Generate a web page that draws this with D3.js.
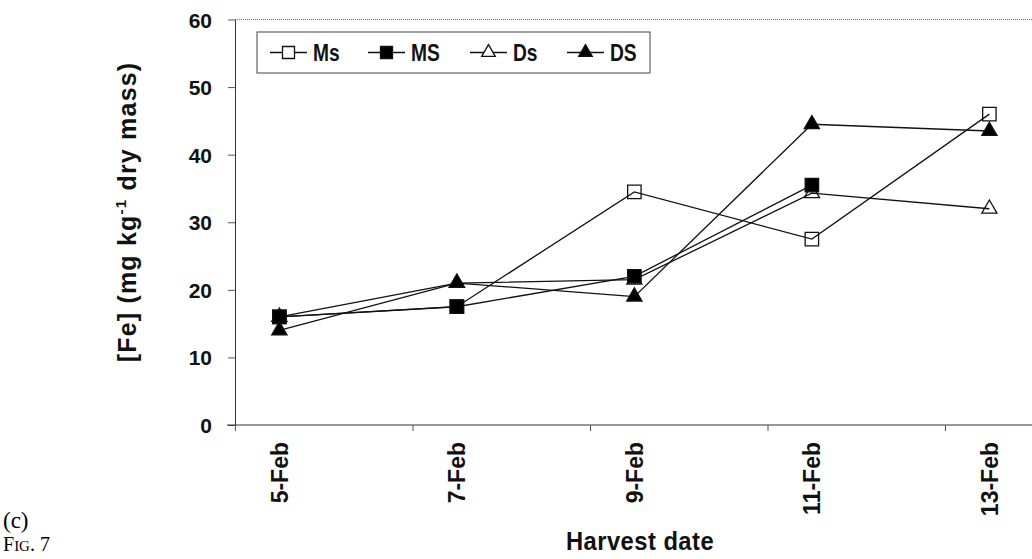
<!DOCTYPE html>
<html>
<head>
<meta charset="utf-8">
<script src="https://cdn.jsdelivr.net/npm/d3@7"></script>
<style>
  body { margin: 0; background: #fff; }
  text { font-family: Arial, "Liberation Sans", sans-serif; }
</style>
</head>
<body>
<svg width="1032" height="559"></svg>
<script>
// harvest dates (day of February) and their labels
var days = [5, 7, 9, 11, 13];
var dateLabels = ["5-Feb", "7-Feb", "9-Feb", "11-Feb", "13-Feb"];
var yTicks = [0, 10, 20, 30, 40, 50, 60];

// [Fe] values, mg kg-1 dry mass (null = no measurement)
var seriesNames = ["Ms", "MS", "Ds", "DS"];
var ms = [16, 17.5, 34.5, 27.5, 46];
var MS = [16, 17.5, 22, 35.5, null];
var ds = [16, 21, 21.5, 34.3, 32];
var DS = [14, 21, 19, 44.5, 43.5];

var series = [
    {name: seriesNames[0], values: ms, shape: d3.symbolSquare, filled: false},
    {name: seriesNames[1], values: MS, shape: d3.symbolSquare, filled: true},
    {name: seriesNames[2], values: ds, shape: d3.symbolTriangle, filled: false},
    {name: seriesNames[3], values: DS, shape: d3.symbolTriangle, filled: true}
];

var svg = d3.select("svg");

var x = d3.scaleLinear().domain([4.5, 14.5]).range([235, 1122.5]);
var y = d3.scaleLinear().domain([0, 60]).range([425, 19.5]);

var symSize = function(s) { return s.shape === d3.symbolSquare ? 180 : 100; };

// top border of plot area (dotted)
svg.append("line")
    .attr("x1", x(4.5)).attr("x2", 1032)
    .attr("y1", y(60)).attr("y2", y(60))
    .attr("stroke", "#777").attr("stroke-width", 1)
    .attr("stroke-dasharray", "1,1");

// y axis
var yAxis = svg.append("g")
    .attr("transform", `translate(${x(4.5)},0)`)
    .call(d3.axisLeft(y).tickValues(yTicks).tickSize(7).tickSizeOuter(0).tickPadding(16));
yAxis.select(".domain").attr("stroke", "#333");
yAxis.selectAll(".tick line").attr("stroke", "#555");
yAxis.selectAll("text")
    .style("font-size", "21px").style("font-weight", "bold").attr("fill", "#111")
    .attr("dy", "0.36em");

// x axis: tick marks between harvest dates
var xAxis = svg.append("g")
    .attr("transform", `translate(0,${y(0)})`)
    .call(d3.axisBottom(x).tickValues(days.map(function(d) { return d - 0.5; }))
        .tickSize(6).tickSizeOuter(0).tickFormat(""));
xAxis.select(".domain").attr("stroke", "#333").attr("d", `M${x(4.5) - 8},0H1032`);
xAxis.selectAll(".tick line").attr("stroke", "#555");

// x labels, rotated
svg.selectAll(".xlab")
    .data(days)
    .enter().append("text")
    .attr("class", "xlab")
    .attr("transform", function(d) { return `translate(${x(d)},${y(0) + 17}) rotate(-90)`; })
    .attr("dy", "0.36em")
    .style("text-anchor", "end")
    .style("font-size", "23px").style("font-weight", "bold").attr("fill", "#111")
    .text(function(d, i) { return dateLabels[i]; });

// axis titles
svg.append("text")
    .attr("transform", "translate(640,550) scale(0.95,1)")
    .style("text-anchor", "middle")
    .style("font-size", "25px").style("font-weight", "bold").style("letter-spacing", "0.5px")
    .attr("fill", "#111")
    .text("Harvest date");

var yt = svg.append("text")
    .attr("transform", "translate(136,212) rotate(-90)")
    .style("text-anchor", "middle")
    .style("font-size", "25px").style("font-weight", "bold").style("letter-spacing", "1.2px")
    .attr("fill", "#111");
yt.append("tspan").text("[Fe] (mg kg");
yt.append("tspan").attr("dy", "-10").style("font-size", "15px").text("-1");
yt.append("tspan").attr("dy", "10").text(" dry mass)");

// panel label and figure caption
svg.append("text").attr("x", 3).attr("y", 528)
    .style("font-family", "'Liberation Serif', 'Times New Roman', serif")
    .style("font-size", "23px").text("(c)");
var fig = svg.append("text").attr("x", 3).attr("y", 551)
    .style("font-family", "'Liberation Serif', 'Times New Roman', serif")
    .style("font-size", "20px");
fig.append("tspan").text("F");
fig.append("tspan").style("font-size", "15px").text("IG");
fig.append("tspan").text(". 7");

// lines
var line = d3.line()
    .defined(function(d) { return d != null; })
    .x(function(d, i) { return x(days[i]); })
    .y(function(d) { return y(d); });

svg.selectAll(".series-line")
    .data(series)
    .enter().append("path")
    .attr("class", "series-line")
    .attr("d", function(s) { return line(s.values); })
    .attr("fill", "none").attr("stroke", "#111").attr("stroke-width", 1.3);

// markers (filled squares drawn over open triangles)
var drawOrder = [series[0], series[2], series[1], series[3]];
drawOrder.forEach(function(s) {
    svg.selectAll(null)
        .data(s.values.map(function(v, i) { return {v: v, i: i}; })
            .filter(function(d) { return d.v != null; }))
        .enter().append("path")
        .attr("d", d3.symbol().type(s.shape).size(symSize(s)))
        .attr("transform", function(d) { return `translate(${x(days[d.i])},${y(d.v)})`; })
        .attr("fill", s.filled ? "#000" : "none")
        .attr("stroke", "#111").attr("stroke-width", 1.3);
});

// legend
var legendBox = {x: 257, y: 32, w: 393, h: 41};
svg.append("rect")
    .attr("x", legendBox.x).attr("y", legendBox.y)
    .attr("width", legendBox.w).attr("height", legendBox.h)
    .attr("fill", "#fff").attr("stroke", "#444").attr("stroke-width", 1);

var legendX = [270, 368, 470, 567];
var legend = svg.selectAll(".legend")
    .data(series)
    .enter().append("g")
    .attr("class", "legend")
    .attr("transform", function(d, i) { return `translate(${legendX[i]},${legendBox.y + legendBox.h / 2})`; });

legend.append("line")
    .attr("x1", 0).attr("x2", 37)
    .attr("stroke", "#111").attr("stroke-width", 1.3);
legend.append("path")
    .attr("transform", "translate(18.5,0)")
    .attr("d", function(s) { return d3.symbol().type(s.shape).size(symSize(s) * 0.8)(); })
    .attr("fill", function(s) { return s.filled ? "#000" : "#fff"; })
    .attr("stroke", "#111").attr("stroke-width", 1.3);
legend.append("text")
    .attr("transform", "translate(43,0) scale(0.8,1)")
    .attr("dy", "0.36em")
    .style("font-size", "24px").style("font-weight", "bold").attr("fill", "#111")
    .text(function(s) { return s.name; });
</script>
</body>
</html>
